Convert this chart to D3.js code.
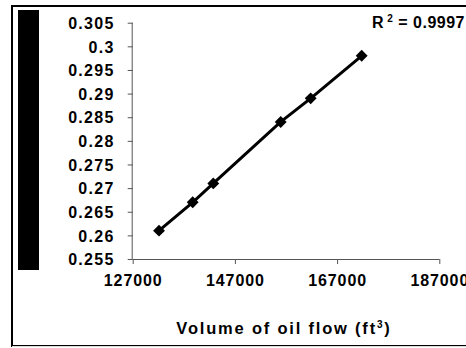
<!DOCTYPE html>
<html><head><meta charset="utf-8">
<script src="https://cdn.jsdelivr.net/npm/d3@7"></script>
<style>
html,body{margin:0;padding:0;background:#fff;}
svg{display:block;font-family:"Liberation Sans",Arial,sans-serif;}
</style></head>
<body><div id="chart"></div>
<script>
const volumes = [132150, 138740, 142770, 155960, 161830, 171810];
const values  = [0.261, 0.267, 0.271, 0.284, 0.289, 0.298];
const xTicks = [127000, 147000, 167000, 187000];
const yTicks = [0.255, 0.26, 0.265, 0.27, 0.275, 0.28, 0.285, 0.29, 0.295, 0.3, 0.305];
const yTickLabels = ["0.255","0.26","0.265","0.27","0.275","0.28","0.285","0.29","0.295","0.3","0.305"];
const xTitle = "Volume of oil flow (ft";
const r2Text = "= 0.9997";

const W = 466, H = 348;
const svg = d3.select("#chart").append("svg").attr("width", W).attr("height", H);

// outer frame
svg.append("rect").attr("x", 12).attr("y", 6).attr("width", 470).attr("height", 340)
  .attr("fill", "#fff").attr("stroke", "#000").attr("stroke-width", 2);
svg.append("line").attr("x1", 12).attr("x2", W).attr("y1", 346.5).attr("y2", 346.5)
  .attr("stroke", "#ddd").attr("stroke-width", 1);

// black bar at left (y title region)
svg.append("rect").attr("x", 18).attr("y", 10).attr("width", 21).attr("height", 260).attr("fill", "#000");

const x = d3.scaleLinear().domain([127000, 187000]).range([132.7, 439.3]);
const y = d3.scaleLinear().domain([0.255, 0.305]).range([259, 22.7]);

const tickFont = g => g.selectAll("text")
  .attr("font-size", "16px").attr("font-weight", "bold").attr("fill", "#000")
  .attr("letter-spacing", "0.9px");

const yAxis = svg.append("g").attr("transform", `translate(${x(127000)},0)`)
  .call(d3.axisLeft(y).tickValues(yTicks).tickSize(5).tickPadding(13)
    .tickFormat((d, i) => yTickLabels[i]));
yAxis.call(tickFont);
yAxis.selectAll("text").attr("dy", "0.36em").attr("letter-spacing", "1.3px");
yAxis.select(".domain").attr("stroke", "#555").attr("d", `M-0.5,${y(0.305)}V${y(0.255)}`);
yAxis.selectAll(".tick line").attr("stroke", "#555");

const xAxis = svg.append("g").attr("transform", `translate(0,${y(0.255)})`)
  .call(d3.axisBottom(x).tickValues(xTicks).tickSize(5).tickPadding(11)
    .tickFormat(d3.format("d")));
xAxis.call(tickFont);
xAxis.select(".domain").attr("stroke", "#555").attr("d", `M${x(127000)},0.5H${x(187000)}`);
xAxis.selectAll(".tick line").attr("stroke", "#555");

// axis title
const t = svg.append("text").attr("x", 284).attr("y", 334).attr("text-anchor", "middle")
  .attr("font-size", "16.5px").attr("font-weight", "bold").attr("letter-spacing", "1.8px");
t.append("tspan").text(xTitle);
t.append("tspan").attr("dy", "-6").attr("font-size", "10px").text("3");
t.append("tspan").attr("dy", "6").text(")");

// R^2
const r = svg.append("text").attr("x", 465).attr("y", 28).attr("text-anchor", "end")
  .attr("font-size", "16px").attr("font-weight", "bold").attr("letter-spacing", "0.5px");
r.append("tspan").text("R");
r.append("tspan").attr("dy", "-6").attr("font-size", "10px").text(" 2");
r.append("tspan").attr("dy", "6").text("\u00a0" + r2Text);

const pts = volumes.map((v, i) => [v, values[i]]);
svg.append("path").datum(pts)
  .attr("d", d3.line().x(d => x(d[0])).y(d => y(d[1])))
  .attr("fill", "none").attr("stroke", "#000").attr("stroke-width", 3);

svg.selectAll(".pt").data(pts).enter().append("path")
  .attr("transform", d => `translate(${x(d[0])},${y(d[1])}) rotate(45)`)
  .attr("d", "M-4.2,-4.2H4.2V4.2H-4.2Z").attr("fill", "#000");
</script></body></html>
